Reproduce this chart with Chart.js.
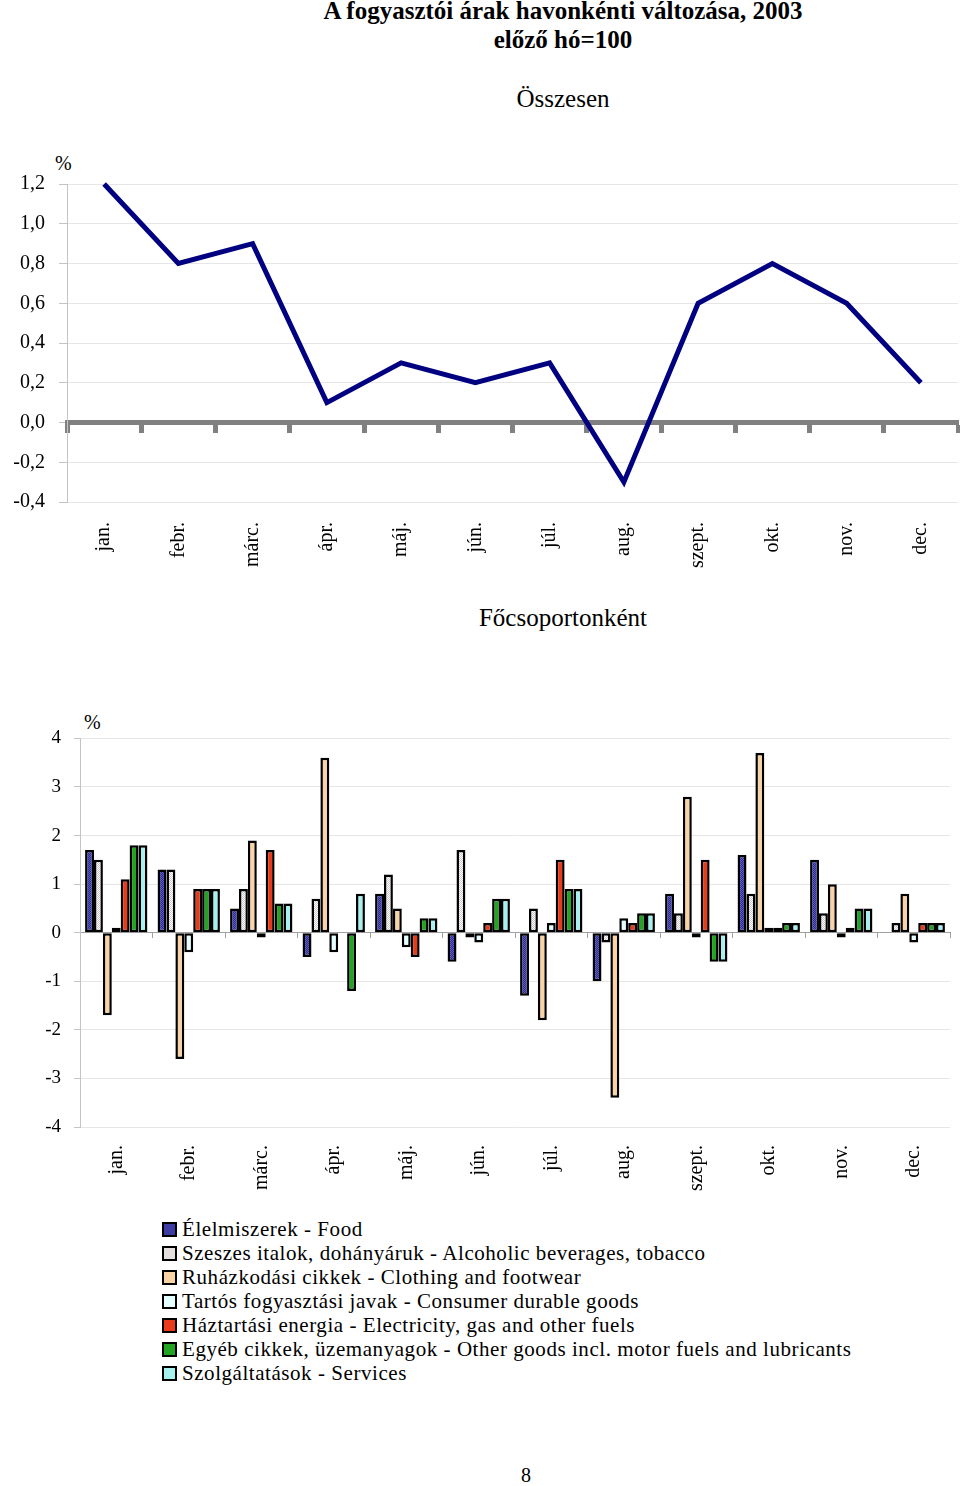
<!DOCTYPE html>
<html><head><meta charset="utf-8">
<script src="https://cdn.jsdelivr.net/npm/chart.js@4/dist/chart.umd.min.js"></script>
<style>
body{margin:0;background:#fff;width:960px;height:1486px;position:relative;font-family:'Liberation Serif','Times New Roman',serif;color:#000;overflow:hidden}
.c{position:absolute;left:163px;width:800px;text-align:center;white-space:nowrap}
.a{position:absolute;white-space:nowrap}
#legend{position:absolute;left:162px;top:1217px;font-size:21px;line-height:24px;letter-spacing:0.55px}
#legend div{display:flex;align-items:center;white-space:nowrap;height:24px}
#legend span.sw{display:inline-block;width:11px;height:11px;border:2px solid #000;margin-right:5px}
</style></head>
<body>
<div class="c" style="top:-2px;font-size:25px;font-weight:bold;line-height:26px">A fogyasztói árak havonkénti változása, 2003</div>
<div class="c" style="top:27px;font-size:25px;font-weight:bold;line-height:26px">előző hó=100</div>
<div class="c" style="top:85px;font-size:25px;line-height:28px">Összesen</div>
<div class="a" style="left:55px;top:152px;font-size:20px;line-height:22px">%</div>
<div class="a" style="left:0;top:158px;width:960px;height:424px"><canvas id="c1"></canvas></div>
<div class="c" style="top:604px;font-size:25px;line-height:28px">Főcsoportonként</div>
<div class="a" style="left:84px;top:711px;font-size:20px;line-height:22px">%</div>
<div class="a" style="left:0;top:714px;width:960px;height:493px"><canvas id="c2"></canvas></div>
<div id="legend"></div>
<div class="a" style="left:521px;top:1464px;font-size:20px;line-height:22px">8</div>
<script>
// ---- data ----
const months = ['jan.','febr.','márc.','ápr.','máj.','jún.','júl.','aug.','szept.','okt.','nov.','dec.'];
const total = [1.2, 0.8, 0.9, 0.1, 0.3, 0.2, 0.3, -0.3, 0.6, 0.8, 0.6, 0.2];
const seriesNames = [
  'Élelmiszerek - Food',
  'Szeszes italok, dohányáruk - Alcoholic beverages, tobacco',
  'Ruházkodási cikkek - Clothing and footwear',
  'Tartós fogyasztási javak - Consumer durable goods',
  'Háztartási energia - Electricity, gas and other fuels',
  'Egyéb cikkek, üzemanyagok - Other goods incl. motor fuels and lubricants',
  'Szolgáltatások - Services'
];
const food     = [1.7, 1.3, 0.5, -0.5, 0.8, -0.6, -1.3, -1.0, 0.8, 1.6, 1.5, 0.0];
const alcohol  = [1.5, 1.3, 0.9, 0.7, 1.2, 1.7, 0.5, -0.2, 0.4, 0.8, 0.4, 0.2];
const clothing = [-1.7, -2.6, 1.9, 3.6, 0.5, -0.1, -1.8, -3.4, 2.8, 3.7, 1.0, 0.8];
const durables = [0.1, -0.4, -0.1, -0.4, -0.3, -0.2, 0.2, 0.3, -0.1, 0.1, -0.1, -0.2];
const energy   = [1.1, 0.9, 1.7, 0.0, -0.5, 0.2, 1.5, 0.2, 1.5, 0.1, 0.1, 0.2];
const other    = [1.8, 0.9, 0.6, -1.2, 0.3, 0.7, 0.9, 0.4, -0.6, 0.2, 0.5, 0.2];
const services = [1.8, 0.9, 0.6, 0.8, 0.3, 0.7, 0.9, 0.4, -0.6, 0.2, 0.5, 0.2];
const seriesValues = [food, alcohol, clothing, durables, energy, other, services];

// ---- styles ----
function pattern(base, dot){
  const cv = document.createElement('canvas'); cv.width = cv.height = 2;
  const x = cv.getContext('2d');
  x.fillStyle = base; x.fillRect(0,0,2,2);
  x.fillStyle = dot; x.fillRect(0,0,1,1); x.fillRect(1,1,1,1);
  return x.createPattern(cv,'repeat');
}
const solid = ['#3c3ca4','#e2dede','#f9d3a6','#e4ffff','#ea3a1c','#22a422','#a6f0f0'];
const fills = [pattern('#2c2c94','#5a5ac0'), pattern('#ffffff','#cfc8c8'), solid[2], solid[3], solid[4], solid[5], solid[6]];

const FONT = "'Liberation Serif','Times New Roman',serif";
Chart.defaults.font.family = FONT;
Chart.defaults.color = '#000';
Chart.defaults.animation = false;

// ---- top chart ----
new Chart(document.getElementById('c1'), {
  type: 'line',
  data: { labels: months, datasets: [{ data: total, borderColor: '#000080', borderWidth: 5, pointRadius: 0, tension: 0, clip: false, xAxisID: 'x' }] },
  options: {
    responsive: true, maintainAspectRatio: false,
    layout: { padding: { top: 20, right: 2, left: 0, bottom: 0 } },
    plugins: { legend: { display: false }, tooltip: { enabled: false } },
    scales: {
      x: { type: 'category', offset: true, grid: { display: false }, border: { display: false },
           ticks: { maxRotation: 90, minRotation: 90, padding: 12, font: { size: 20 } },
           afterFit(s){ s.height = 80; } },
      x2: { type: 'category', position: { y: 0 }, offset: true,
            grid: { offset: true, drawOnChartArea: false, drawTicks: true, tickLength: 8, tickWidth: 5, tickColor: '#808080' },
            border: { display: true, width: 5, color: '#808080' }, ticks: { display: false } },
      y: { min: -0.4, max: 1.2, grid: { color: '#e6e6e6', tickColor: '#c4c4c4', tickLength: 8 },
           border: { color: '#c4c4c4' },
           ticks: { stepSize: 0.2, padding: 14, font: { size: 20 },
                    callback: v => (Math.round(v*10)/10).toFixed(1).replace('.', ',').replace('-0,0','0,0') },
           afterFit(s){ s.width = 67; } }
    }
  }
});

// ---- bar chart ----
new Chart(document.getElementById('c2'), {
  type: 'bar',
  data: { labels: months, datasets: seriesValues.map((vals, i) => ({
    label: seriesNames[i], data: vals, backgroundColor: fills[i], borderColor: '#000', borderWidth: 2.5,
    borderSkipped: false, categoryPercentage: 0.86, barPercentage: 1.0, xAxisID: 'x' })) },
  options: {
    responsive: true, maintainAspectRatio: false,
    layout: { padding: { top: 20, right: 10, left: 0, bottom: 0 } },
    plugins: { legend: { display: false }, tooltip: { enabled: false } },
    scales: {
      x: { type: 'category', offset: true, grid: { display: false }, border: { display: false },
           ticks: { maxRotation: 90, minRotation: 90, padding: 10, font: { size: 20 } },
           afterFit(s){ s.height = 80; } },
      x2: { type: 'category', position: { y: 0 }, offset: true,
            grid: { offset: true, drawOnChartArea: false, drawTicks: true, tickLength: 5, tickWidth: 1, tickColor: '#a0a0a0' },
            border: { display: true, width: 1, color: '#a0a0a0' }, ticks: { display: false } },
      y: { min: -4, max: 4, grid: { color: '#e6e6e6', tickColor: '#c4c4c4', tickLength: 6 },
           border: { color: '#c4c4c4' },
           ticks: { stepSize: 1, padding: 13, font: { size: 19 } },
           afterFit(s){ s.width = 80; } }
    }
  }
});

// ---- legend ----
const lg = document.getElementById('legend');
seriesNames.forEach((n, i) => {
  const row = document.createElement('div');
  const sw = document.createElement('span'); sw.className = 'sw'; sw.style.background = solid[i];
  row.appendChild(sw); row.appendChild(document.createTextNode(n));
  lg.appendChild(row);
});
</script>
</body></html>
